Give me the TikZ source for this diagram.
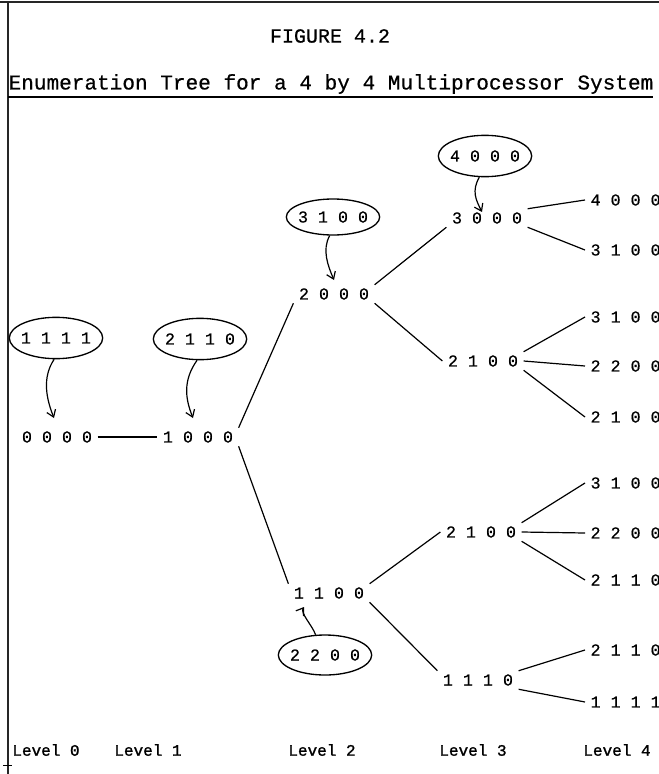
\documentclass[tikz,border=0pt]{standalone}
\usepackage{fontspec}
\newfontfamily\typer{Liberation Mono}[FakeBold=0.6]
\newfontfamily\typerlvl{Liberation Mono}[FakeBold=1.4]
\usetikzlibrary{shapes.geometric,arrows.meta}
\begin{document}
\begin{tikzpicture}[x=0.75pt,y=-0.75pt,
  num/.style={font=\typer\fontsize{12.5}{14}\selectfont, inner xsep=4pt, inner ysep=2.5pt},
  leaf/.style={num, anchor=west},
  edge/.style={line width=0.9pt},
  bubble/.style={draw, line width=1pt, ellipse, font=\typer\fontsize{12.5}{14}\selectfont,
    inner xsep=-1.5pt, inner ysep=0pt, minimum height=31pt},
  hint/.style={line width=0.9pt, -{Straight Barb[length=5pt,width=7pt]}},
  lvl/.style={font=\typerlvl\fontsize{12}{14}\selectfont},
  frame/.style={line width=1.5pt, black!85}]
\useasboundingbox (0,0) rectangle (659,774);

% page frame
\draw[frame] (0,2) -- (659,2);
\draw[frame] (8,2) -- (8,774);
\draw[line width=0.6pt] (3,765) -- (12,765);

% headings
\node[font=\typer\fontsize{15}{18}\selectfont] (fig) at (330,36) {FIGURE 4.2};
\node[font=\typer\fontsize{15.8}{18}\selectfont] (title) at (331,84)
  {Enumeration Tree for a 4 by 4 Multiprocessor System};
\draw[line width=1pt] (8,97) -- (653,97);

% tree nodes
\node[num] (n0) at (57,437) {0 0 0 0};
\node[num] (n1) at (198,437) {1 0 0 0};
\node[num] (n2a) at (334,294) {2 0 0 0};
\node[num] (n2b) at (329,593) {1 1 0 0};
\node[num] (n3a) at (487,218) {3 0 0 0};
\node[num] (n3b) at (483,361) {2 1 0 0};
\node[num] (n3c) at (481,532) {2 1 0 0};
\node[num] (n3d) at (478,680) {1 1 1 0};

\node[leaf] (l1) at (585,200) {4 0 0 0};
\node[leaf] (l2) at (585,250) {3 1 0 0};
\node[leaf] (l3) at (585,317) {3 1 0 0};
\node[leaf] (l4) at (585,366) {2 2 0 0};
\node[leaf] (l5) at (585,417) {2 1 0 0};
\node[leaf] (l6) at (585,483) {3 1 0 0};
\node[leaf] (l7) at (585,533) {2 2 0 0};
\node[leaf] (l8) at (585,580) {2 1 1 0};
\node[leaf] (l9) at (585,650) {2 1 1 0};
\node[leaf] (l10) at (585,702) {1 1 1 1};

% tree edges
\draw[edge] (n0.east) -- (n1.west);
\draw[edge] (n1.north east) -- (n2a.south west);
\draw[edge] (n1.south east) -- (n2b.north west);
\draw[edge] (n2a.north east) -- (n3a.south west);
\draw[edge] (n2a.south east) -- (n3b.west);
\draw[edge] (n2b.north east) -- (n3c.west);
\draw[edge] (n2b.south east) -- (n3d.north west);
\draw[edge] (n3a.north east) -- (l1.west);
\draw[edge] (n3a.south east) -- (l2.west);
\draw[edge] (n3b.north east) -- (l3.west);
\draw[edge] (n3b.east) -- (l4.west);
\draw[edge] (n3b.south east) -- (l5.west);
\draw[edge] (n3c.north east) -- (l6.west);
\draw[edge] (n3c.east) -- (l7.west);
\draw[edge] (n3c.south east) -- (l8.west);
\draw[edge] (n3d.north east) -- (l9.west);
\draw[edge] (n3d.south east) -- (l10.west);

% bound bubbles
\node[bubble] (b0) at (56,338) {1 1 1 1};
\node[bubble] (b1) at (200,339) {2 1 1 0};
\node[bubble, minimum height=27pt] (b2) at (333,217) {3 1 0 0};
\node[bubble] (b3) at (485,156) {4 0 0 0};
\node[bubble, minimum height=30pt] (b4) at (325,655) {2 2 0 0};

\coordinate (t0) at (54,418);
\coordinate (t1) at (193,418);
\coordinate (t2) at (334,280);
\coordinate (t3) at (482,212);
\coordinate (t4) at (304,607);

\draw[hint] (b0.265) .. controls +(-12,18) and +(-8,-20) .. (t0);
\draw[hint] (b1.262) .. controls +(-14,20) and +(-8,-20) .. (t1);
\draw[hint] (b2.260) .. controls +(-8,14) and +(-6,-14) .. (t2);
\draw[hint] (b3.255) .. controls +(-8,14) and +(-6,-12) .. (t3);
\draw[hint] (b4.115) .. controls +(-3,-9) and +(-4,6) .. (t4);

% level captions
\node[lvl] (lv0) at (46,750) {Level 0};
\node[lvl] (lv1) at (148,750) {Level 1};
\node[lvl] (lv2) at (322,750) {Level 2};
\node[lvl] (lv3) at (473,750) {Level 3};
\node[lvl] (lv4) at (617,750) {Level 4};
\end{tikzpicture}
\end{document}
